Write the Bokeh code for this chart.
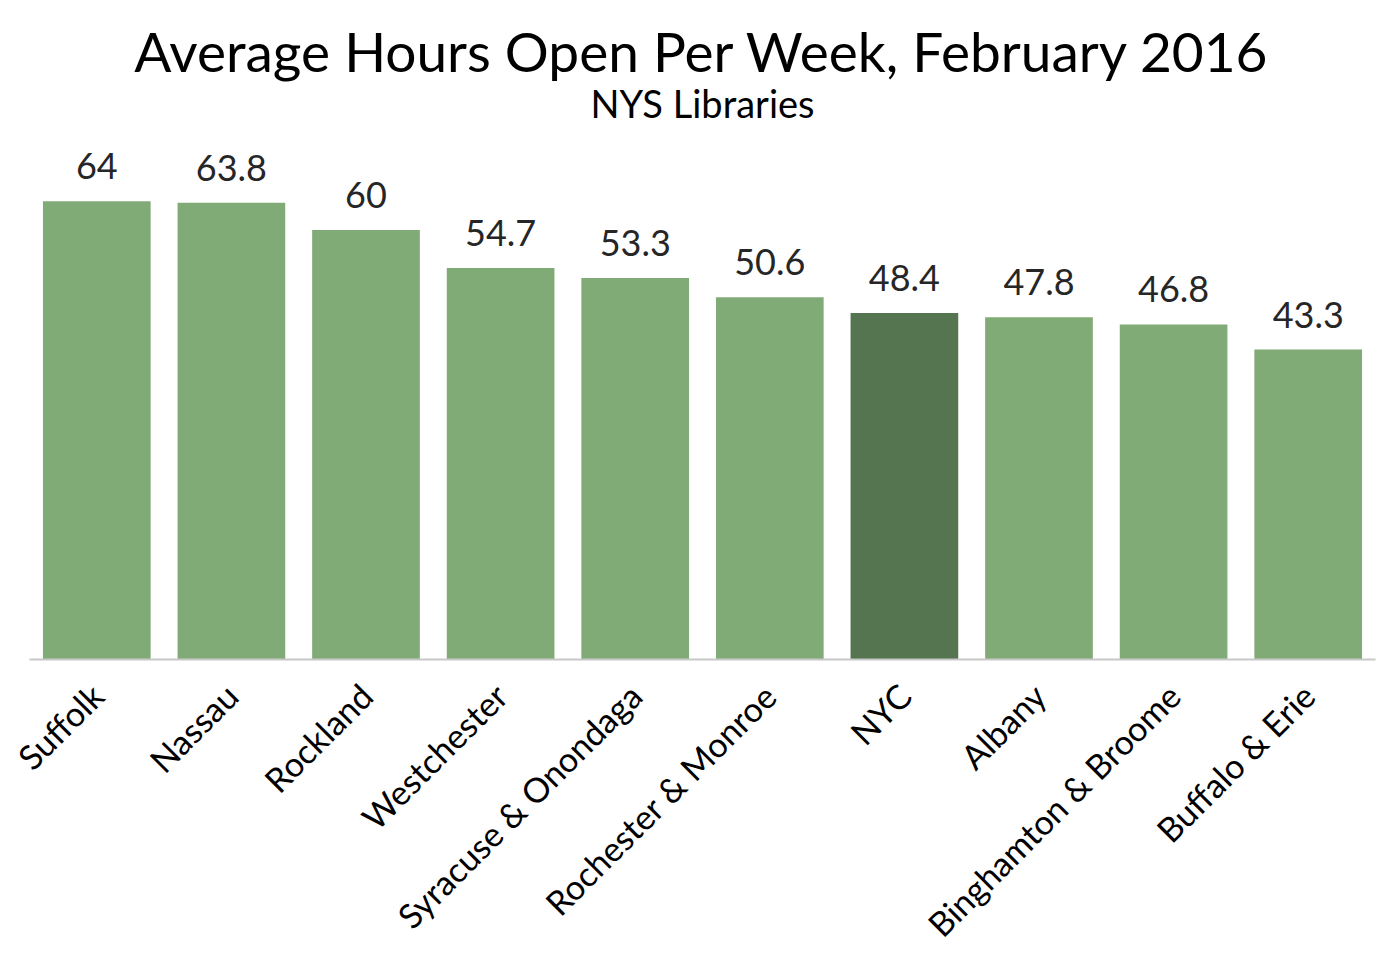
from bokeh.plotting import figure
from bokeh.models import ColumnDataSource, Range1d
from bokeh.embed import file_html
from bokeh.resources import INLINE
from bokeh.core.properties import value
import math

title = "Average Hours Open Per Week, February 2016"
subtitle = "NYS Libraries"
regions = ["Suffolk", "Nassau", "Rockland", "Westchester", "Syracuse & Onondaga",
           "Rochester & Monroe", "NYC", "Albany", "Binghamton & Broome", "Buffalo & Erie"]
hours = [64, 63.8, 60, 54.7, 53.3, 50.6, 48.4, 47.8, 46.8, 43.3]
highlight = "NYC"

BASE = "#80AB76"
DARK = "#557551"
FONT = "Lato"

n = len(regions)
pos = list(range(n))
labels = [("%g" % h) for h in hours]
colors = [DARK if r == highlight else BASE for r in regions]
src = ColumnDataSource(dict(x=pos, name=regions, top=hours, lab=labels, color=colors,
                            zero=[0] * n))

W, H = 1384, 944
BASELINE_PX = 659        # pixel row of the bar baseline, from the top
Y_MAX_PX = 140           # pixel row reserved for the top of the value scale
Y_MAX = 72.5
PAD_L, PAD_R = 29, 9     # white space left/right of the category band
cell = (W - PAD_L - PAD_R) / n
x_start = -0.5 - PAD_L / cell
x_end = n - 0.5 + PAD_R / cell
scale = (BASELINE_PX - Y_MAX_PX) / Y_MAX
y_top = BASELINE_PX / scale
y_min = -(H - BASELINE_PX) / scale

p = figure(x_range=Range1d(x_start, x_end), y_range=Range1d(y_min, y_top), width=W, height=H,
           output_backend="svg", toolbar_location=None,
           min_border_left=0, min_border_right=0, min_border_top=0, min_border_bottom=0)

# titles, anchored to the top edge of the frame
center = (n - 1) / 2
p.text(x=[center], y=[y_top], text=[title], text_align="center", text_baseline="bottom",
       y_offset=83, text_font=value(FONT), text_font_size="55px", text_color="black")
p.text(x=[center], y=[y_top], text=[subtitle], text_align="center", text_baseline="bottom",
       y_offset=125, text_font=value(FONT), text_font_size="38px", text_color="black")

p.vbar(x="x", top="top", width=0.8, color="color", line_color=None, source=src)
# baseline (category axis line)
p.segment(x0=[-0.5], y0=[0], x1=[n - 0.5], y1=[0], line_color="#C8C8C8", line_width=2)

p.text(x="x", y="top", text="lab", source=src, text_align="center", text_baseline="bottom",
       y_offset=-22, text_font=value(FONT), text_font_size="36px", text_color="#262626")

p.text(x="x", y="zero", text="name", source=src, angle=math.pi / 4, text_align="right",
       text_baseline="middle", y_offset=30, text_font=value(FONT), text_font_size="34px",
       text_color="black")

p.xaxis.visible = False
p.yaxis.visible = False
p.xgrid.visible = False
p.ygrid.visible = False
p.outline_line_color = None

open("out.html", "w").write(file_html(p, INLINE))
